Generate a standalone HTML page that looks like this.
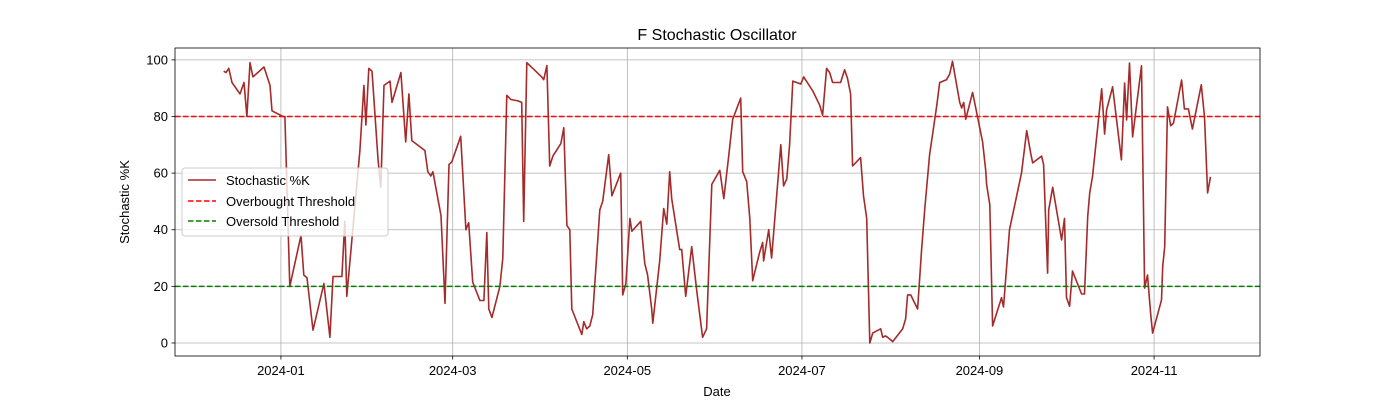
<!DOCTYPE html>
<html><head><meta charset="utf-8"><style>
body{margin:0;background:#fff;}
svg{display:block;font-family:"Liberation Sans","DejaVu Sans",sans-serif;}
</style></head><body>
<svg id="chart" width="1400" height="400" viewBox="0 0 1400 400"></svg>
<script>
const dayOffsets=[-20,-19.2,-18.2,-17.1,-14.3,-12.9,-11.9,-10.8,-9.8,-5.9,-3.8,-3.1,0.7,1.4,3.1,7.0,8.0,9.1,11.2,15.0,17.1,18.2,21.3,22.3,23.0,27.6,29.0,29.7,30.7,31.8,33.9,34.9,36.0,38.1,38.8,41.9,43.6,44.7,45.7,50.3,51.3,52.4,53.1,55.9,57.3,58.7,59.7,62.8,64.6,65.6,67.0,69.5,70.9,71.9,72.6,73.7,76.5,77.5,78.9,80.3,82.8,84.1,84.8,85.9,91.1,91.8,92.9,93.9,95.0,97.8,98.8,99.9,100.9,101.6,105.1,105.8,106.8,107.9,108.9,111.4,112.4,114.5,115.6,118.7,119.4,120.5,121.9,122.6,125.7,127.1,128.1,129.5,129.9,132.3,133.7,134.8,135.8,136.5,139.3,140.0,141.4,143.5,145.3,147.3,148.7,150.5,153.3,154.7,156.4,157.8,160.6,161.3,162.7,163.8,164.8,167.2,168.3,168.6,170.4,171.4,174.6,175.6,176.7,177.7,178.8,181.6,182.6,185.8,188.2,189.2,190.6,191.7,192.7,195.5,196.9,197.9,199.0,199.7,202.5,203.5,204.6,205.7,206.7,209.5,210.2,211.2,211.9,213.7,217.2,218.2,218.9,220.0,222.4,223.8,224.9,226.6,229.1,230.1,232.5,233.6,234.6,237.1,237.8,238.5,239.2,241.6,245.1,246.2,246.5,247.6,248.6,251.7,252.4,254.5,258.7,260.5,261.9,262.6,265.7,266.4,267.8,268.2,269.6,272.7,273.7,274.4,275.5,276.5,279.7,280.7,281.8,282.5,283.5,286.7,287.7,288.4,290.5,293.6,294.7,295.4,296.4,297.5,300.6,301.7,302.7,303.8,304.5,307.6,308.0,308.7,309.7,310.8,311.8,314.6,315.6,317.0,318.4,321.5,322.6,323.7,324.7];
const kValues=[96,95.5,97,92,88,92,80,99,94,97.5,91,82,80,80,20,38,24,23,4.5,21,2,23.5,23.5,43,16.5,68,91,77,97,96,65,55,91,92.5,85,95.5,71,88,71.5,68,60.5,59,60.5,45,14,63,64,73,40,42.5,21.5,15,15,39,12,9,20,30,87.5,86,85.5,85,43,99,94,93,98,62.5,66,70.5,76,41.5,40,12,3,7.5,5,6,10,47,50,66.5,52,60,17,21,44,39.5,43,28,24,12,7,29,47.5,42,60.5,51,33,33,16.5,34,18,2,5,56,61,51,66,79,86.5,60.5,57,44,22,32,35.5,29,40,30,70,55.5,58,70,92.5,91.5,94,89,84,80.5,97,95.5,92,92,96.5,93.5,88,62.5,65.5,52,44,0,3.5,5,2,2.5,2,0.5,5,8.5,17,17,12,33,47.5,66.5,84,92,93,95,99.5,85,83,85,79,88.5,71,61,56,48.8,6,16,12.7,40,60,75,67,63.6,66,63,24.7,47,55,36.4,44,16,13,25.4,17.3,17.3,44.6,53,58.7,89.8,73.8,82.3,90.5,64.7,91.8,78.8,98.9,72.8,97.9,19.4,24,10.6,3.5,15.2,27,34,83.4,76.7,77.7,92.9,82.7,82.7,75.6,91.2,79.9,53,58.7];
const xTickDays=[0,60,121,182,244,305];
const xTickLabels=["2024-01","2024-03","2024-05","2024-07","2024-09","2024-11"];
const yTicks=[0,20,40,60,80,100];
const overbought=80, oversold=20;

const NS="http://www.w3.org/2000/svg";
const svg=document.getElementById('chart');
const L=175,R=1260,T=48,B=356;
const xMin=-37,xMax=342,yMin=-4.6,yMax=104.2;
const xs=d=>L+(d-xMin)/(xMax-xMin)*(R-L);
const ys=v=>B-(v-yMin)/(yMax-yMin)*(B-T);
function mk(tag,attrs,parent){const e=document.createElementNS(NS,tag);for(const k in attrs)e.setAttribute(k,attrs[k]);(parent||svg).appendChild(e);return e;}

// grid
xTickDays.forEach((d,i)=>{
  const g=mk('line',{x1:xs(d),x2:xs(d),y1:T,y2:B,stroke:'#b0b0b0','stroke-width':0.8});
  
  
  mk('line',{x1:xs(d),x2:xs(d),y1:B,y2:B+3.5,stroke:'#000','stroke-width':0.8});
  const t=mk('text',{x:xs(d),y:B+19,'text-anchor':'middle','font-size':13,fill:'#000'});
  t.textContent=xTickLabels[i];
  
  
});
yTicks.forEach(v=>{
  const g=mk('line',{x1:L,x2:R,y1:ys(v),y2:ys(v),stroke:'#b0b0b0','stroke-width':0.8});
  
  
  mk('line',{x1:L-3.5,x2:L,y1:ys(v),y2:ys(v),stroke:'#000','stroke-width':0.8});
  const t=mk('text',{x:L-7,y:ys(v)+4.5,'text-anchor':'end','font-size':13,fill:'#000'});
  t.textContent=v;
  
  
});
// series
let dstr='';
dayOffsets.forEach((d,i)=>{dstr+=(i?'L':'M')+xs(d).toFixed(1)+' '+ys(kValues[i]).toFixed(1);});
const line=mk('path',{d:dstr,fill:'none',stroke:'#a52a2a','stroke-width':1.6,'stroke-linejoin':'round'});


const ob=mk('line',{x1:L,x2:R,y1:ys(overbought),y2:ys(overbought),stroke:'#ff0000','stroke-width':1.5,'stroke-dasharray':'5.5,2.5'});


const os=mk('line',{x1:L,x2:R,y1:ys(oversold),y2:ys(oversold),stroke:'#008000','stroke-width':1.5,'stroke-dasharray':'5.5,2.5'});


// frame
const fr=mk('rect',{x:L,y:T,width:R-L,height:B-T,fill:'none',stroke:'#000','stroke-width':0.8});


</script>
<svg width="0" height="0" style="position:absolute"></svg>
<div style="position:absolute;left:0;top:0;width:1400px;height:400px;pointer-events:none">
<svg width="1400" height="400" style="font-family:'Liberation Sans','DejaVu Sans',sans-serif">
<text x="717" y="40" text-anchor="middle" font-size="16">F Stochastic Oscillator</text>
<text x="717" y="396" text-anchor="middle" font-size="13">Date</text>
<text x="129" y="202" text-anchor="middle" font-size="13" transform="rotate(-90 129 202)">Stochastic %K</text>
<g>
<rect x="182" y="168" width="206" height="68" rx="3" fill="#fff" fill-opacity="0.8" stroke="#cccccc" stroke-width="1"/>
<g><line x1="188" x2="216" y1="180" y2="180" stroke="#a52a2a" stroke-width="1.6"/><text x="226" y="185" font-size="13">Stochastic %K</text></g>
<g><line x1="188" x2="216" y1="201" y2="201" stroke="#ff0000" stroke-width="1.5" stroke-dasharray="5.5,2.5"/><text x="226" y="206" font-size="13">Overbought Threshold</text></g>
<g><line x1="188" x2="216" y1="221" y2="221" stroke="#008000" stroke-width="1.5" stroke-dasharray="5.5,2.5"/><text x="226" y="226" font-size="13">Oversold Threshold</text></g>
</g>
</svg></div>
</body></html>
